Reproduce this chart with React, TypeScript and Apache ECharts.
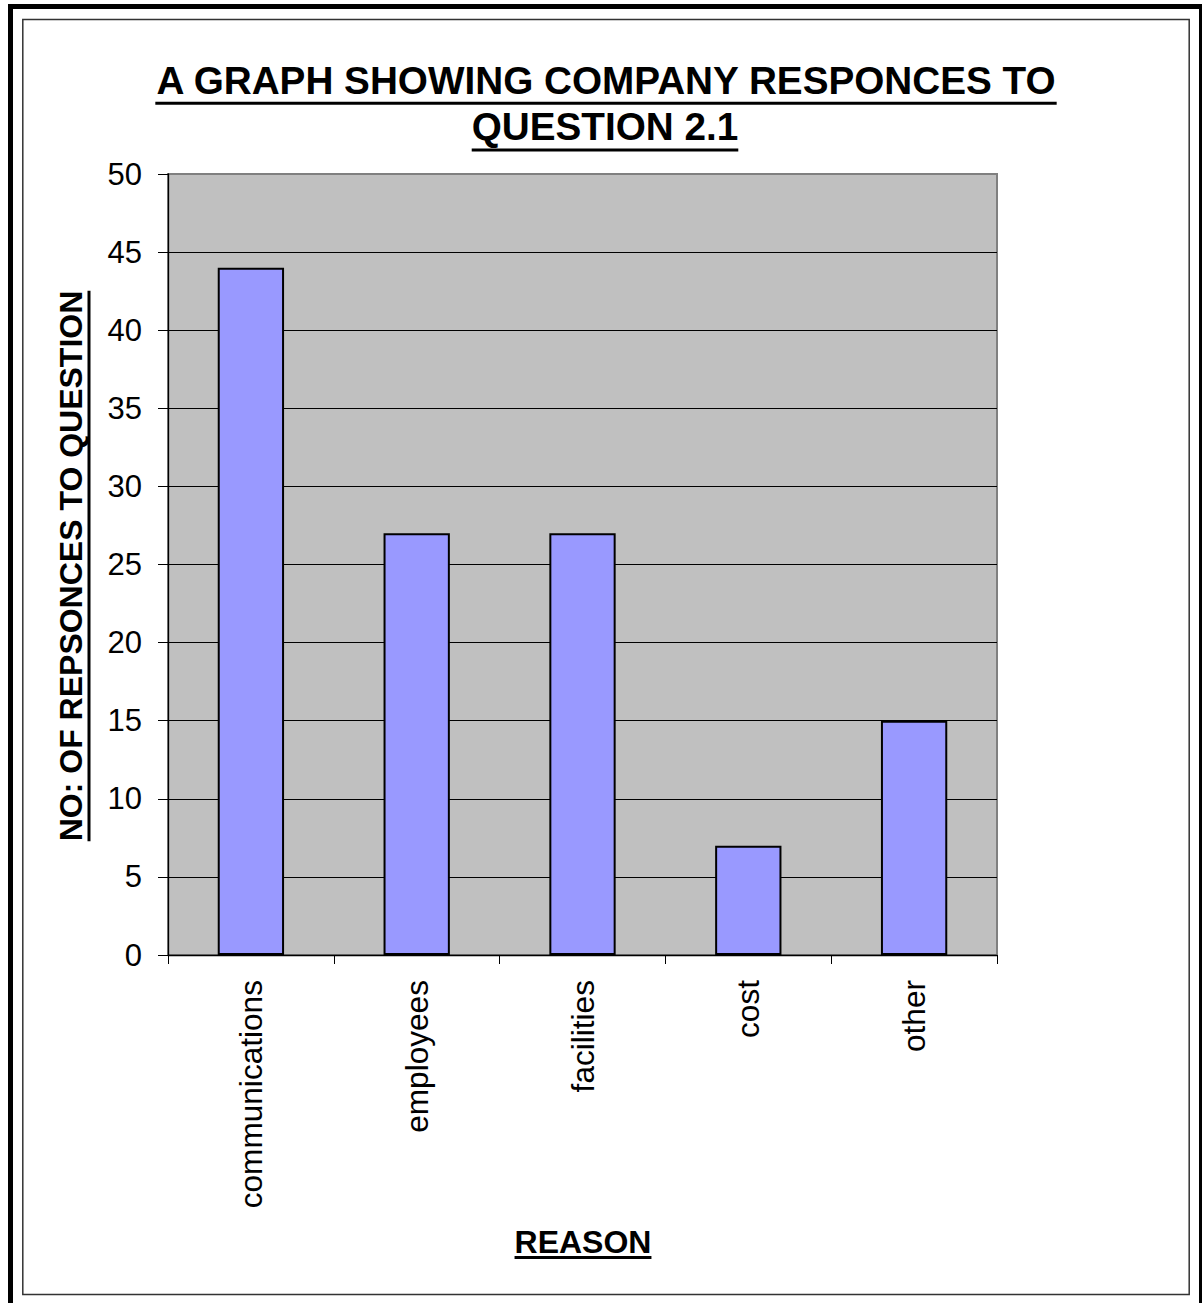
import React, { useEffect, useRef } from "react";
import * as echarts from "echarts";

// Survey answers per reason
const categories = ["communications", "employees", "facilities", "cost", "other"];
const responses = [44, 27, 27, 7, 15];

// Value-axis scale
const yMin = 0;
const yMax = 50;
const yInterval = 5;

// Texts
const titleLines = ["A GRAPH SHOWING COMPANY RESPONCES TO", "QUESTION 2.1"];
const yAxisTitle = "NO: OF REPSONCES TO QUESTION";
const xAxisTitle = "REASON";

const FONT = "'Liberation Sans', Arial, Helvetica, sans-serif";

function measure(text: string, font: string): number {
  const ctx = document.createElement("canvas").getContext("2d");
  if (!ctx) return text.length * 20;
  ctx.font = font;
  return ctx.measureText(text).width;
}

// Bold text with an underline, centred on (cx, cy), optionally rotated
function underlined(
  text: string,
  size: number,
  cx: number,
  cy: number,
  underlineOffset: number,
  rotation = 0
) {
  const font = `bold ${size}px ${FONT}`;
  const w = measure(text, font);
  return {
    type: "group",
    x: cx,
    y: cy,
    rotation,
    children: [
      {
        type: "text",
        style: {
          text,
          x: 0,
          y: 0,
          font,
          fill: "#000",
          textAlign: "center",
          textVerticalAlign: "middle",
          align: "center",
          verticalAlign: "middle",
        },
      },
      {
        type: "line",
        shape: { x1: -w / 2, y1: underlineOffset, x2: w / 2, y2: underlineOffset },
        style: { stroke: "#000", lineWidth: 3 },
      },
    ],
  };
}

// gridlines are black, except the one on the plot's top edge, which stays grey
const splitCount = Math.round((yMax - yMin) / yInterval) + 1;
const splitColors: string[] = [];
for (let i = 0; i < splitCount; i++) {
  splitColors.push(i === splitCount - 1 ? "#808080" : "#000");
}

export default function App() {
  const ref = useRef<HTMLDivElement>(null);

  useEffect(() => {
    if (!ref.current) return;
    const chart = echarts.init(ref.current, null, { renderer: "svg" });

    chart.setOption({
      animation: false,
      backgroundColor: "#fff",
      grid: {
        left: 168,
        top: 174,
        right: 205,
        bottom: 348,
        show: true,
        backgroundColor: "#c0c0c0",
        borderColor: "#808080",
        borderWidth: 2,
      },
      xAxis: {
        type: "category",
        data: categories,
        boundaryGap: true,
        axisLine: { show: true, lineStyle: { color: "#000", width: 1.3 } },
        axisTick: { show: true, length: 9, lineStyle: { color: "#000", width: 1 } },
        axisLabel: {
          rotate: 90,
          fontSize: 31.6,
          fontFamily: FONT,
          color: "#000",
          margin: 25,
        },
        splitLine: { show: false },
      },
      yAxis: {
        type: "value",
        min: yMin,
        max: yMax,
        interval: yInterval,
        axisLine: { show: true, lineStyle: { color: "#000", width: 1.3 } },
        axisTick: { show: true, length: 10, lineStyle: { color: "#000", width: 1 } },
        axisLabel: {
          fontSize: 31,
          fontFamily: FONT,
          color: "#000",
          margin: 26,
        },
        splitLine: { show: true, lineStyle: { color: splitColors, width: 1 } },
      },
      series: [
        {
          type: "bar",
          data: responses,
          barWidth: "40%",
          itemStyle: { color: "#9999ff", borderColor: "#000", borderWidth: 2 },
        },
      ],
      graphic: [
        // heavy outer frame
        {
          type: "rect",
          shape: { x: 10.5, y: 6.5, width: 1191, height: 1400 },
          style: { fill: "none", stroke: "#000", lineWidth: 5 },
          silent: true,
        },
        // chart-area border
        {
          type: "rect",
          shape: { x: 22.8, y: 19.5, width: 1166.4, height: 1275 },
          style: { fill: "none", stroke: "#333", lineWidth: 1.5 },
          silent: true,
        },
        underlined(titleLines[0], 38.7, 606, 80.5, 22.8),
        underlined(titleLines[1], 38.7, 605, 126.5, 23.5),
        underlined(yAxisTitle, 32, 70.5, 566, 18.5, Math.PI / 2),
        underlined(xAxisTitle, 32, 583, 1242, 15.5),
      ],
    });

    return () => chart.dispose();
  }, []);

  return (
    <div
      ref={ref}
      style={{ position: "absolute", left: 0, top: 0, width: 1202, height: 1303 }}
    />
  );
}
